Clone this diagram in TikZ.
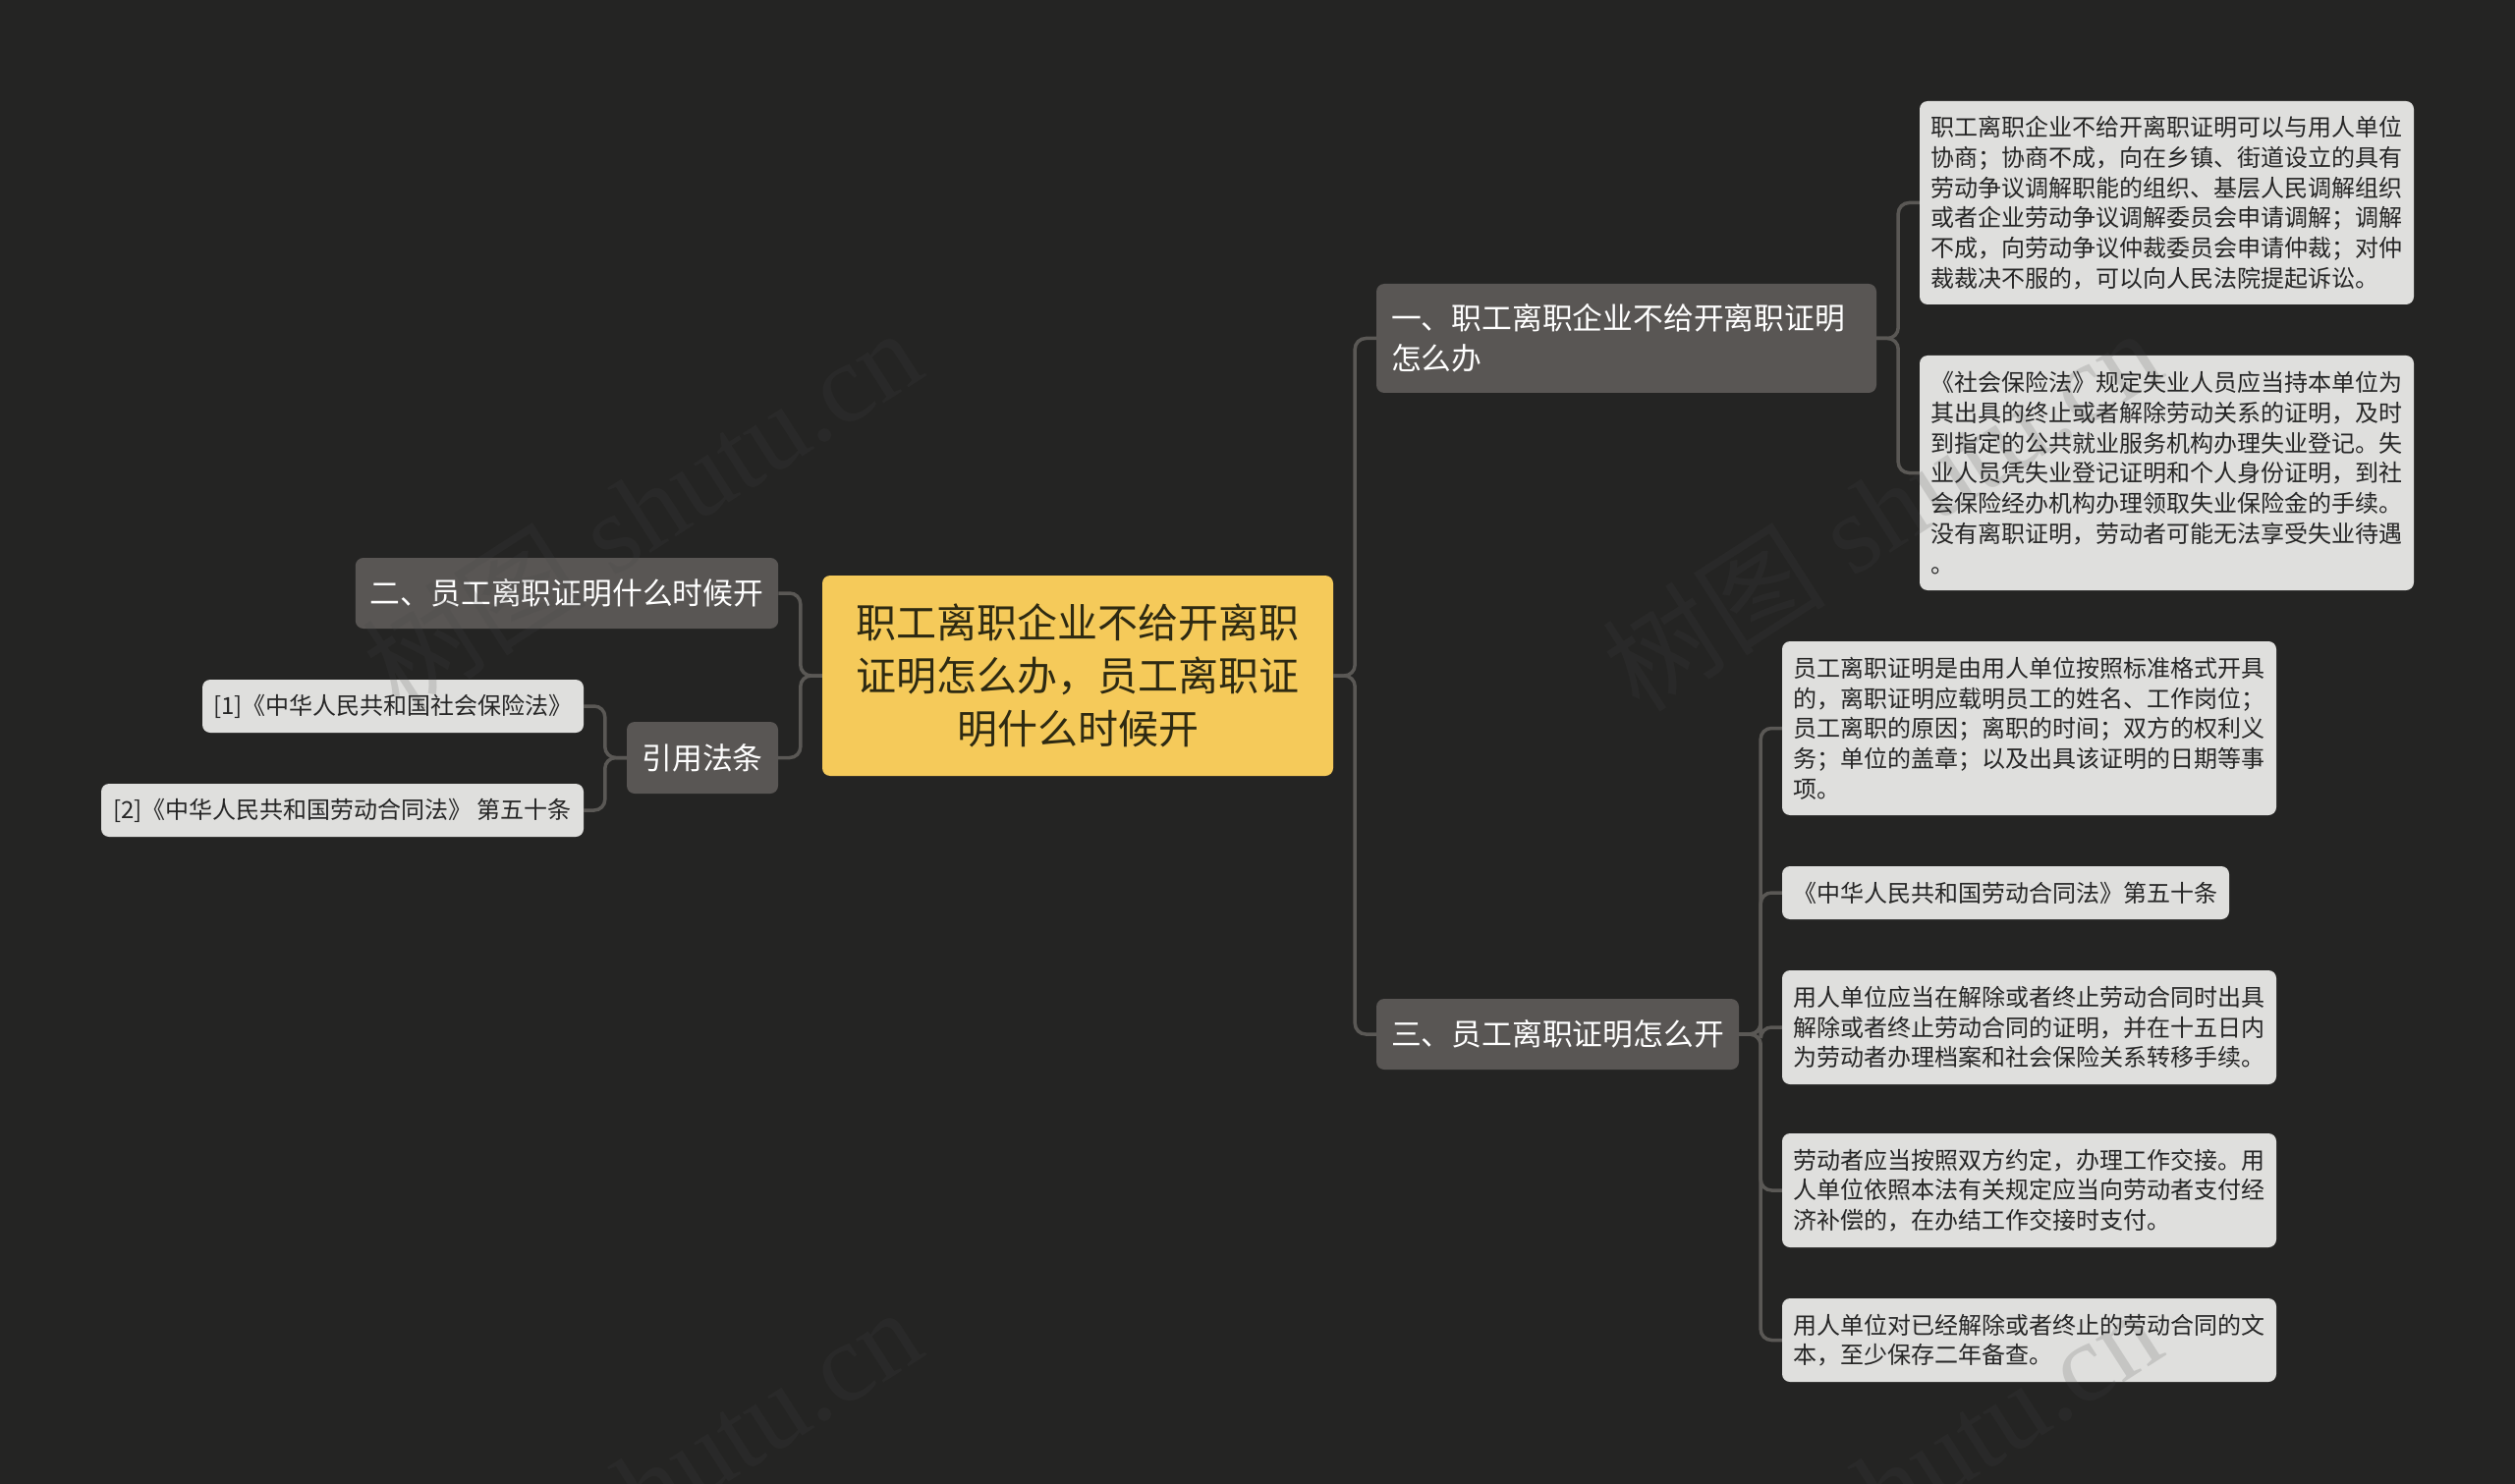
\documentclass[tikz,border=0pt]{standalone}
\usepackage{fontspec}
\setmainfont{Noto Sans CJK SC}
\newfontfamily\markfont{Liberation Serif}
\definecolor{pagebg}{HTML}{242423}
\definecolor{rootfill}{HTML}{F5CA5A}
\definecolor{roottext}{HTML}{2E2A12}
\definecolor{branchfill}{HTML}{595654}
\definecolor{leaffill}{HTML}{DFDFDD}
\definecolor{leaftext}{HTML}{262626}
\definecolor{linkgray}{HTML}{5A5855}
\definecolor{markgray}{HTML}{474747}
\tikzset{
  rootbox/.style={fill=rootfill,text=roottext,rounded corners=8pt,inner sep=0pt,align=center,font=\fontsize{41}{54}\selectfont},
  branchbox/.style={fill=branchfill,text=white,rounded corners=8pt,inner xsep=15pt,inner ysep=0pt,align=left,font=\fontsize{30.8}{41}\selectfont},
  leafbox/.style={fill=leaffill,text=leaftext,rounded corners=8pt,inner xsep=11pt,inner ysep=0pt,align=left,font=\fontsize{24}{30.7}\selectfont},
  link/.style={draw=linkgray,line width=3.5pt,rounded corners=11pt},
  markword/.style={text=markgray,text opacity=0.17,rotate=32.7,inner sep=0pt,font=\fontsize{114}{114}\markfont}
}

\begin{document}
\begin{tikzpicture}[x=1pt,y=-1pt]
\useasboundingbox[fill=pagebg] (0,0) rectangle (2560,1511);
\node[rootbox,minimum width=520pt,minimum height=204pt] (root) at (1097,688)
  {职工离职企业不给开离职\\证明怎么办，员工离职证\\明什么时候开};
\node[branchbox,text width=479pt,minimum height=111pt] (branchone) at (1655.5,344.5)
  {一、职工离职企业不给开离职证明\\怎么办};
\node[branchbox,minimum width=369pt,minimum height=72pt] (branchthree) at (1585.5,1053)
  {三、员工离职证明怎么开};
\node[branchbox,minimum width=430pt,minimum height=72pt] (branchtwo) at (577,604)
  {二、员工离职证明什么时候开};
\node[branchbox,minimum width=154pt,minimum height=73pt] (lawnode) at (715,771.5)
  {引用法条};
\node[leafbox,text width=481pt,minimum height=207pt] (oneleafa) at (2205.5,206.5)
  {职工离职企业不给开离职证明可以与用人单位\\协商；协商不成，向在乡镇、街道设立的具有\\劳动争议调解职能的组织、基层人民调解组织\\或者企业劳动争议调解委员会申请调解；调解\\不成，向劳动争议仲裁委员会申请仲裁；对仲\\裁裁决不服的，可以向人民法院提起诉讼。};
\node[leafbox,text width=481pt,minimum height=239pt] (oneleafb) at (2205.5,481.5)
  {《社会保险法》规定失业人员应当持本单位为\\其出具的终止或者解除劳动关系的证明，及时\\到指定的公共就业服务机构办理失业登记。失\\业人员凭失业登记证明和个人身份证明，到社\\会保险经办机构办理领取失业保险金的手续。\\没有离职证明，劳动者可能无法享受失业待遇\\。};
\node[leafbox,text width=481pt,minimum height=177pt] (threeleafa) at (2065.5,741.5)
  {员工离职证明是由用人单位按照标准格式开具\\的，离职证明应载明员工的姓名、工作岗位；\\员工离职的原因；离职的时间；双方的权利义\\务；单位的盖章；以及出具该证明的日期等事\\项。};
\node[leafbox,minimum width=455pt,minimum height=54pt] (threeleafb) at (2041.5,909)
  {《中华人民共和国劳动合同法》第五十条};
\node[leafbox,text width=481pt,minimum height=116pt] (threeleafc) at (2065.5,1046)
  {用人单位应当在解除或者终止劳动合同时出具\\解除或者终止劳动合同的证明，并在十五日内\\为劳动者办理档案和社会保险关系转移手续。};
\node[leafbox,text width=481pt,minimum height=116pt] (threeleafd) at (2065.5,1212)
  {劳动者应当按照双方约定，办理工作交接。用\\人单位依照本法有关规定应当向劳动者支付经\\济补偿的，在办结工作交接时支付。};
\node[leafbox,text width=481pt,minimum height=85pt] (threeleafe) at (2065.5,1364.5)
  {用人单位对已经解除或者终止的劳动合同的文\\本，至少保存二年备查。};
\node[leafbox,minimum width=388pt,minimum height=54pt] (lawleafa) at (400,719)
  {[1]《中华人民共和国社会保险法》};
\node[leafbox,minimum width=491pt,minimum height=54pt] (lawleafb) at (348.5,825)
  {[2]《中华人民共和国劳动合同法》 第五十条};
\draw[link] (root.east) -- ++(22,0) |- (branchone.west);
\draw[link] (root.east) -- ++(22,0) |- (branchthree.west);
\draw[link] (root.west) -- ++(-22,0) |- (branchtwo.east);
\draw[link] (root.west) -- ++(-22,0) |- (lawnode.east);
\draw[link] (branchone.east) -- ++(22,0) |- (oneleafa.west);
\draw[link] (branchone.east) -- ++(22,0) |- (oneleafb.west);
\draw[link] (branchthree.east) -- ++(22,0) |- (threeleafa.west);
\draw[link] (branchthree.east) -- ++(22,0) |- (threeleafb.west);
\draw[link] (branchthree.east) -- ++(22,0) |- (threeleafc.west);
\draw[link] (branchthree.east) -- ++(22,0) |- (threeleafd.west);
\draw[link] (branchthree.east) -- ++(22,0) |- (threeleafe.west);
\draw[link] (lawnode.west) -- ++(-22,0) |- (lawleafa.east);
\draw[link] (lawnode.west) -- ++(-22,0) |- (lawleafb.east);
\node[markword] (marka) at (653,518) {{\rmfamily 树图} shutu.cn};
\node[markword] (markb) at (1915,518) {{\rmfamily 树图} shutu.cn};
\node[markword] (markc) at (653,1515) {{\rmfamily 树图} shutu.cn};
\node[markword] (markd) at (1915,1515) {{\rmfamily 树图} shutu.cn};
\end{tikzpicture}
\end{document}
